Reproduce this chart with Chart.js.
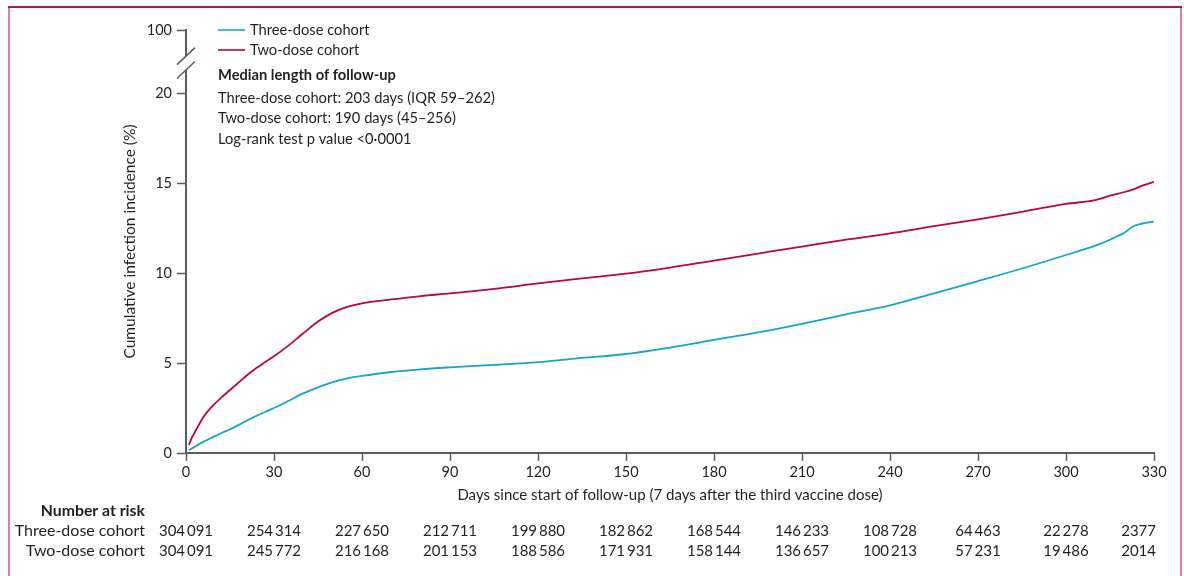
<!DOCTYPE html>
<html>
<head>
<meta charset="utf-8">
<script src="https://cdn.jsdelivr.net/npm/chart.js@4.4.1/dist/chart.umd.min.js"></script>
<style>
html, body { margin: 0; padding: 0; background: #fff; }
</style>
</head>
<body>
<canvas id="kmChart" width="1184" height="576"></canvas>
<script>
// follow-up days where the curves were sampled
const days = [1, 2, 3, 6, 9, 12, 15, 18, 21, 24, 27, 30, 35, 40, 45, 50, 55, 60, 70, 80, 90,
  105, 120, 135, 150, 165, 180, 195, 210, 225, 240, 255, 270, 285, 300, 310, 315, 320, 323, 326, 330];

// cumulative infection incidence (%)
const threeDose = [0.15, 0.25, 0.35, 0.63, 0.87, 1.1, 1.32, 1.56, 1.82, 2.06, 2.28, 2.5, 2.9, 3.31, 3.65, 3.94, 4.15, 4.28, 4.5, 4.65, 4.76,
  4.9, 5.05, 5.28, 5.5, 5.86, 6.28, 6.7, 7.18, 7.7, 8.2, 8.87, 9.55, 10.25, 11.0, 11.52, 11.85, 12.25, 12.6, 12.75, 12.86];
const twoDose = [0.44, 0.85, 1.15, 2.02, 2.6, 3.08, 3.5, 3.92, 4.35, 4.72, 5.05, 5.37, 5.98, 6.65, 7.3, 7.8, 8.12, 8.31, 8.53, 8.72, 8.87,
  9.12, 9.42, 9.7, 9.96, 10.3, 10.69, 11.08, 11.47, 11.85, 12.2, 12.6, 12.98, 13.4, 13.84, 14.05, 14.3, 14.5, 14.65, 14.85, 15.07];

// y ticks; the top one sits above the axis break and reads 100
const yTicks = [0, 5, 10, 15, 20];
const yBreakTop = 23.5;
const yBreakLabel = '100';

// number at risk table
const riskDays = [0, 30, 60, 90, 120, 150, 180, 210, 240, 270, 300, 330];
const riskThree = [304091, 254314, 227650, 212711, 199880, 182862, 168544, 146233, 108728, 64463, 22278, 2377];
const riskTwo = [304091, 245772, 216168, 201153, 188586, 171931, 158144, 136657, 100213, 57231, 19486, 2014];

const medianLines = [
  'Three-dose cohort: 203 days (IQR 59\u2013262)',
  'Two-dose cohort: 190 days (45\u2013256)',
  'Log-rank test p value <0\u00b70001'
];

const CYAN = '#14a5c9';
const RED = '#b8063f';
const AXIS = '#5c5c5c';
const TEXT = '#231f20';
const FONT = 'Lato, "Noto Sans", sans-serif';

function fmt(n) {
  const s = String(n);
  if (s.length <= 4) return s;
  return s.slice(0, s.length - 3) + '\u2009' + s.slice(s.length - 3);
}

const extras = {
  id: 'extras',
  beforeDraw(chart) {
    const ctx = chart.ctx;
    ctx.save();
    ctx.fillStyle = '#fff';
    ctx.fillRect(0, 0, chart.width, chart.height);
    // page frame
    ctx.fillStyle = '#e0809b';
    ctx.fillRect(8, 7, 2, chart.height - 7);
    ctx.fillRect(1180, 7, 2, chart.height - 7);
    ctx.fillStyle = '#b3163f';
    ctx.fillRect(8, 6, 1174, 2);
    ctx.restore();
  },
  afterDraw(chart) {
    const ctx = chart.ctx;
    const xs = chart.scales.x, ys = chart.scales.y;
    const x0 = chart.chartArea.left;
    ctx.save();

    // broken y axis
    const top = ys.getPixelForValue(yBreakTop);
    const b1 = ys.getPixelForValue(22.05);
    const b2 = ys.getPixelForValue(21.28);
    const bottom = ys.getPixelForValue(0);
    ctx.strokeStyle = AXIS;
    ctx.lineWidth = 2;
    ctx.beginPath();
    ctx.moveTo(x0, top - 1); ctx.lineTo(x0, b1);
    ctx.moveTo(x0, b2); ctx.lineTo(x0, bottom + 1);
    ctx.stroke();
    ctx.lineWidth = 1.5;
    ctx.beginPath();
    [b1, b2].forEach(b => {
      ctx.moveTo(x0 - 9, b + 8.5);
      ctx.lineTo(x0 + 9, b - 8.5);
    });
    ctx.stroke();

    // legend
    ctx.font = '14.7px ' + FONT;
    ctx.textBaseline = 'middle';
    ctx.textAlign = 'left';
    chart.data.datasets.forEach((ds, i) => {
      const y = 30 + i * 20;
      ctx.strokeStyle = ds.borderColor;
      ctx.lineWidth = 1.6;
      ctx.beginPath();
      ctx.moveTo(218, y); ctx.lineTo(245, y);
      ctx.stroke();
      ctx.fillStyle = TEXT;
      ctx.fillText(ds.label, 250, y);
    });

    // median follow-up note
    ctx.font = 'bold 14.7px ' + FONT;
    ctx.fillText('Median length of follow-up', 218, 75);
    ctx.font = '14.7px ' + FONT;
    medianLines.forEach((t, i) => ctx.fillText(t, 218, 98 + i * 20.5));

    // number at risk
    ctx.font = 'bold 15.8px ' + FONT;
    ctx.textAlign = 'right';
    ctx.fillText('Number at risk', 145, 511);
    const rows = [['Three-dose cohort', riskThree], ['Two-dose cohort', riskTwo]];
    rows.forEach(([name, vals], r) => {
      const y = 531 + r * 20;
      ctx.font = '16px ' + FONT;
      ctx.textAlign = 'right';
      ctx.fillText(name, 145, y);
      ctx.font = '15px ' + FONT;
      vals.forEach((v, i) => {
        const px = xs.getPixelForValue(riskDays[i]);
        if (i === vals.length - 1) {
          ctx.textAlign = 'right';
          ctx.fillText(fmt(v), px + 2, y);
        } else {
          ctx.textAlign = 'center';
          ctx.fillText(fmt(v), px, y);
        }
      });
    });
    ctx.restore();
  }
};

new Chart(document.getElementById('kmChart'), {
  type: 'line',
  data: {
    datasets: [
      {
        label: 'Three-dose cohort',
        data: days.map((d, i) => ({ x: d, y: threeDose[i] })),
        borderColor: CYAN,
        borderWidth: 1.8,
        pointRadius: 0,
        cubicInterpolationMode: 'monotone'
      },
      {
        label: 'Two-dose cohort',
        data: days.map((d, i) => ({ x: d, y: twoDose[i] })),
        borderColor: RED,
        borderWidth: 1.8,
        pointRadius: 0,
        cubicInterpolationMode: 'monotone'
      }
    ]
  },
  options: {
    responsive: false,
    animation: false,
    layout: { padding: { top: 30, right: 30, left: 0, bottom: 0 } },
    plugins: { legend: { display: false }, tooltip: { enabled: false } },
    scales: {
      x: {
        type: 'linear',
        min: 0,
        max: 330,
        ticks: { stepSize: 30, color: TEXT, font: { family: FONT, size: 14.5 }, padding: 3, maxRotation: 0 },
        grid: { drawOnChartArea: false, drawTicks: true, tickLength: 8, tickColor: AXIS, tickWidth: 1.5 },
        border: { display: true, color: AXIS, width: 2 },
        title: {
          display: true,
          text: 'Days since start of follow-up (7 days after the third vaccine dose)',
          color: TEXT,
          font: { family: FONT, size: 15 },
          padding: { top: 0, bottom: 72 }
        },
        afterFit(scale) { scale.height = 123; }
      },
      y: {
        min: 0,
        max: yBreakTop,
        afterBuildTicks(scale) {
          scale.ticks = yTicks.concat([yBreakTop]).map(v => ({ value: v }));
        },
        ticks: {
          color: TEXT,
          font: { family: FONT, size: 14.5 },
          padding: 5,
          callback: v => (v === yBreakTop ? yBreakLabel : String(v))
        },
        grid: { drawOnChartArea: false, drawTicks: true, tickLength: 9, tickColor: AXIS, tickWidth: 1.5 },
        border: { display: false },
        title: {
          display: true,
          text: 'Cumulative infection incidence (%)',
          color: TEXT,
          font: { family: FONT, size: 15.5 },
          padding: { top: 121, bottom: 0 }
        },
        afterFit(scale) { scale.width = 186; }
      }
    }
  },
  plugins: [extras]
});
</script>
</body>
</html>
